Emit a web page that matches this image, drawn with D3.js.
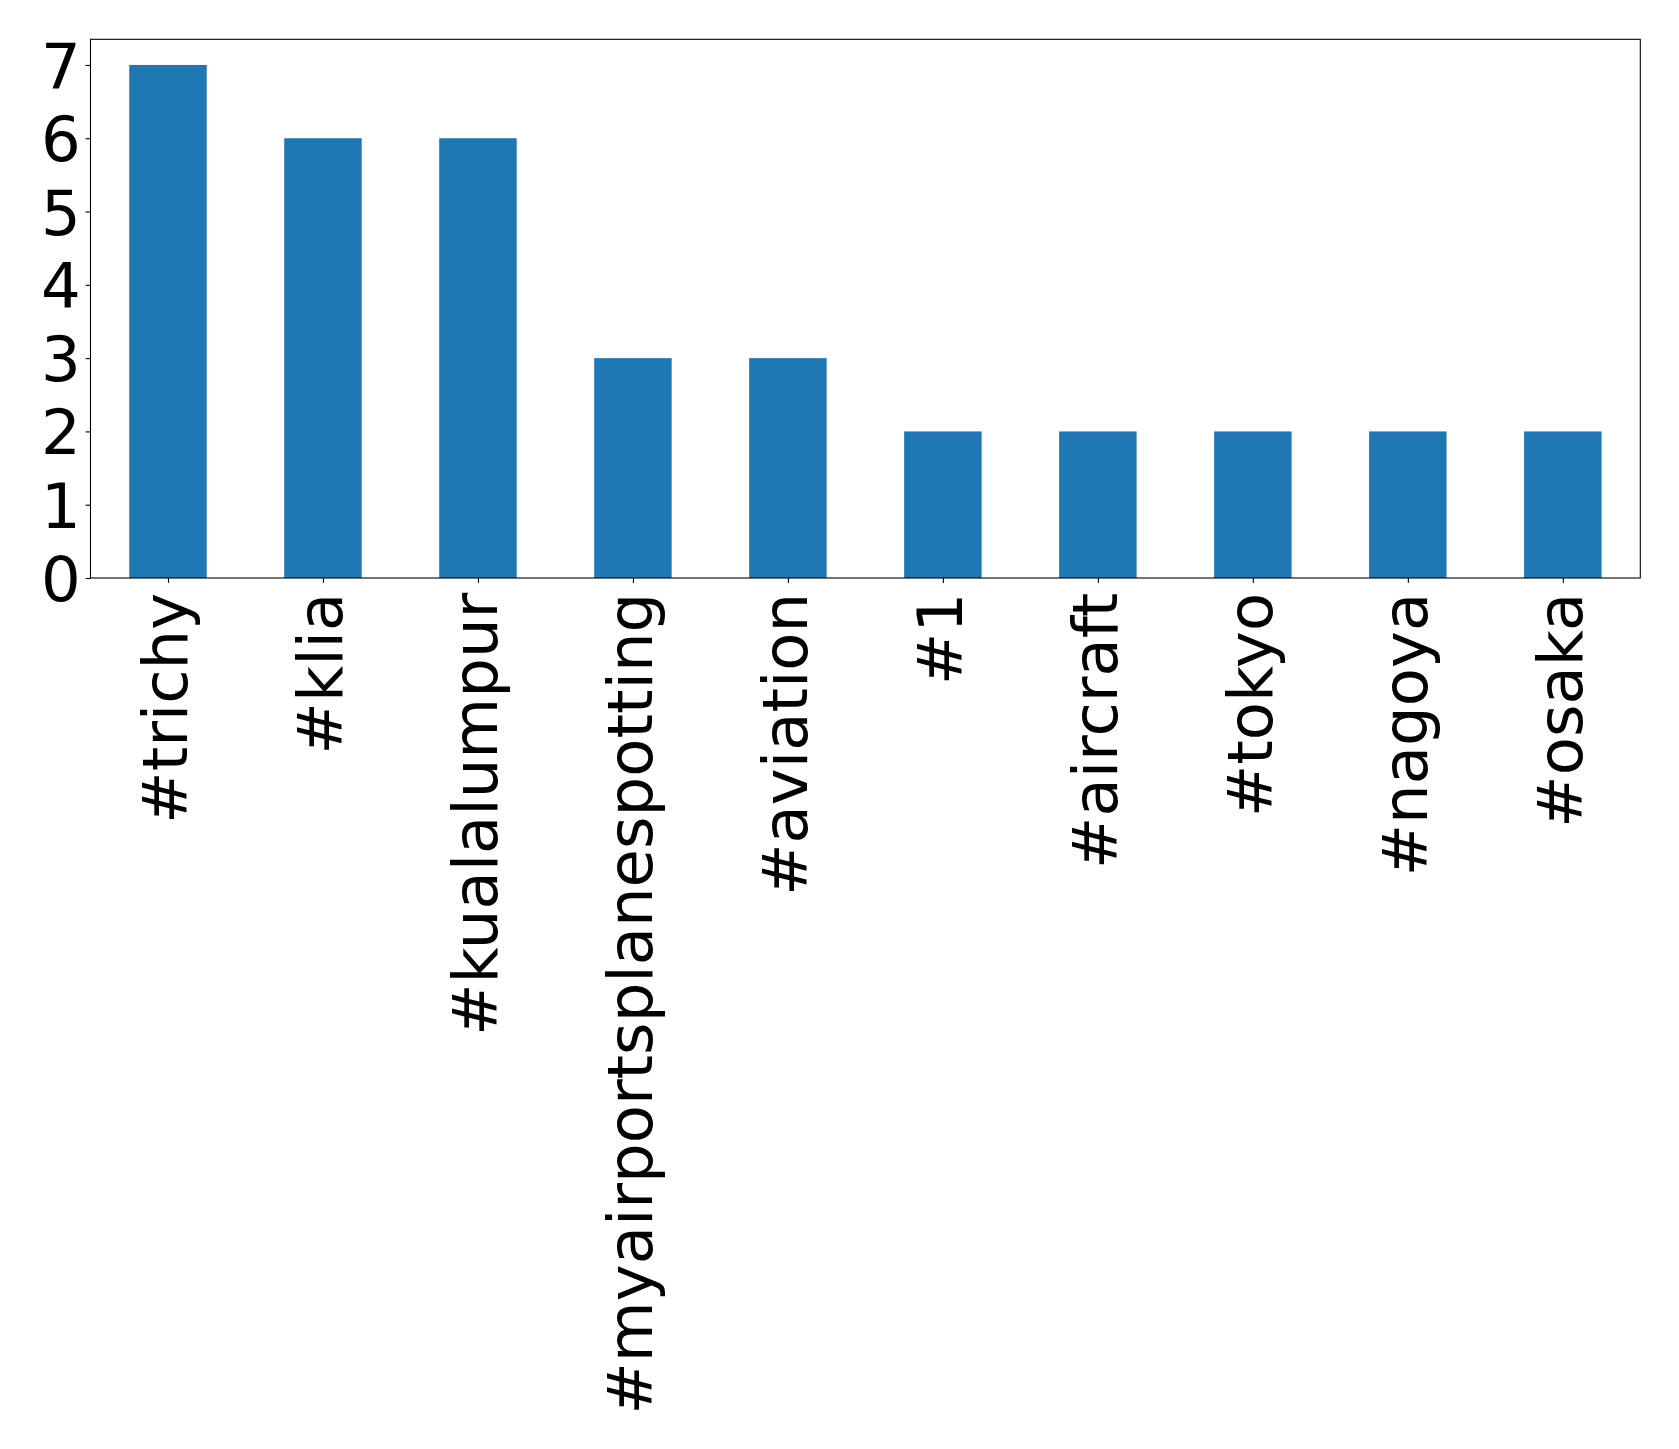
<!DOCTYPE html>
<html>
<head>
<meta charset="utf-8">
<script src="https://cdn.jsdelivr.net/npm/d3@7"></script>
<style>
  html, body { margin: 0; padding: 0; background: #fff; }
  svg { display: block; }
  text { font-family: "DejaVu Sans", sans-serif; fill: #000; }
</style>
</head>
<body>
<svg id="chart" width="1679" height="1449"></svg>
<script>
const categories = ["#trichy", "#klia", "#kualalumpur", "#myairportsplanespotting", "#aviation", "#1", "#aircraft", "#tokyo", "#nagoya", "#osaka"];
const values = [7, 6, 6, 3, 3, 2, 2, 2, 2, 2];
const yTicks = [0, 1, 2, 3, 4, 5, 6, 7];

const W = 1679, H = 1449;
const plot = { left: 90.5, right: 1640.3, top: 39.3, bottom: 578 };
const fontSize = 62.5;
const tickLen = 4.9, tickPad = 4.9;

const svg = d3.select("#chart");

const x = d3.scaleLinear().domain([-0.5, categories.length - 0.5]).range([plot.left, plot.right]);
const y = d3.scaleLinear().domain([0, d3.max(values) * 1.05]).range([plot.bottom, plot.top]);
const step = x(1) - x(0);
const barW = step * 0.5;

// bars
svg.append("g").selectAll("rect").data(values).join("rect")
  .attr("x", (d, i) => x(i) - barW / 2)
  .attr("width", barW)
  .attr("y", d => y(d))
  .attr("height", d => y(0) - y(d))
  .attr("fill", "#1f77b4");

// frame
svg.append("rect")
  .attr("x", plot.left).attr("y", plot.top)
  .attr("width", plot.right - plot.left).attr("height", plot.bottom - plot.top)
  .attr("fill", "none").attr("stroke", "#000").attr("stroke-width", 1.1);

// y axis
const yAxis = d3.axisLeft(y).tickValues(yTicks).tickFormat(d3.format("d"))
  .tickSize(tickLen).tickPadding(tickPad);
const gy = svg.append("g").attr("transform", `translate(${plot.left},0)`).call(yAxis);
gy.select(".domain").remove();
gy.selectAll(".tick line").attr("stroke", "#000").attr("stroke-width", 1.1);
gy.selectAll(".tick text")
  .attr("font-family", "DejaVu Sans, sans-serif")
  .attr("font-size", fontSize)
  .attr("fill", "#000")
  .attr("dy", "0.36em");

// x axis
const xAxis = d3.axisBottom(x).tickValues(d3.range(categories.length))
  .tickFormat(i => categories[i]).tickSize(tickLen).tickPadding(tickPad);
const gx = svg.append("g").attr("transform", `translate(0,${plot.bottom})`).call(xAxis);
gx.select(".domain").remove();
gx.selectAll(".tick line").attr("stroke", "#000").attr("stroke-width", 1.1);
gx.selectAll(".tick text")
  .attr("font-family", "DejaVu Sans, sans-serif")
  .attr("font-size", fontSize)
  .attr("fill", "#000")
  .attr("text-anchor", "end")
  .attr("transform", `translate(0,${tickLen + tickPad + 5}) rotate(-90)`)
  .attr("x", 0)
  .attr("y", 0)
  .attr("dy", "0.3em");
</script>
</body>
</html>
